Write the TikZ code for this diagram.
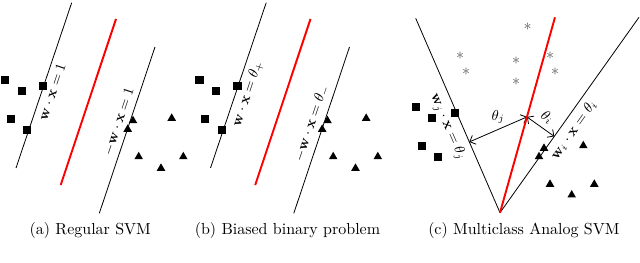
\documentclass[tikz,border=0pt]{standalone}
\usepackage{amsmath}
\usepackage{xcolor}
\usepackage{tikz}
\usetikzlibrary{arrows.meta, positioning, calc, shapes.geometric}
\definecolor{sepred}{HTML}{FF0000}
\definecolor{stargray}{HTML}{555555}
\tikzset{
	margin/.style={line width=0.5pt, black},
	separator/.style={line width=1.2pt, sepred},
	sq/.style={fill=black, minimum size=5.2pt, inner sep=0pt},
	tri/.style={regular polygon, regular polygon sides=3, fill=black,
		minimum size=6.2pt, inner sep=0pt},
	star/.style={text=stargray, inner sep=0pt},
	lbl/.style={font=\small, sloped, inner sep=3pt},
	dist/.style={{Straight Barb[length=3pt]}-{Straight Barb[length=3pt]}, line width=0.5pt},
	subcap/.style={anchor=base, inner sep=0pt},
}

\begin{document}
\begin{tikzpicture}[x=0.625pt, y=-0.625pt]
	\useasboundingbox (0,0) rectangle (640,263);

	% (a) regular SVM
	\coordinate (aLt) at (71.7,2.7);
	\coordinate (aLb) at (16,168);
	\coordinate (aMt) at (116,19);
	\coordinate (aMb) at (60.7,185);
	\coordinate (aRt) at (155,47);
	\coordinate (aRb) at (99.3,213.3);
	\draw[margin] (aLb) -- node[lbl, below, pos=0.48] {$\mathbf{w}\cdot\mathbf{x}=1$} (aLt);
	\draw[separator] (aMb) -- (aMt);
	\draw[margin] (aRb) -- node[lbl, above, pos=0.53] {$-\mathbf{w}\cdot\mathbf{x}=1$} (aRt);

	% (b) biased binary problem
	\begin{scope}[shift={(194.5,0)}]
		\coordinate (bLt) at (71.7,2.7);
		\coordinate (bLb) at (16,168);
		\coordinate (bMt) at (116,19);
		\coordinate (bMb) at (60.7,185);
		\coordinate (bRt) at (155,47);
		\coordinate (bRb) at (99.3,213.3);
		\draw[margin] (bLb) -- node[lbl, below, pos=0.47] {$\mathbf{w}\cdot\mathbf{x}=\theta_+$} (bLt);
		\draw[separator] (bMb) -- (bMt);
		\draw[margin] (bRb) -- node[lbl, above, pos=0.52] {$-\mathbf{w}\cdot\mathbf{x}=\theta_-$} (bRt);
	\end{scope}

	% data of (a) and (b)
	\foreach \s/\p in {0/a, 194.5/b} {
		\foreach \x/\y [count=\k] in {5/80, 21.7/90.7, 43/85.7, 10.7/118.7, 27.3/130}
			\node[sq] (sq\p\k) at (\x+\s,\y) {};
		\foreach \x/\y [count=\k] in {133/120.7, 127.7/129.3, 171.7/118.3, 138.7/156.7, 161/168.3, 183.3/156.7}
			\node[tri] (tr\p\k) at (\x+\s,\y) {};
	}

	% (c) multiclass analog SVM
	\coordinate (cV) at (500,212.7);
	\coordinate (cLt) at (415.7,18.3);
	\coordinate (cMt) at (555,17.3);
	\coordinate (cRt) at (639,17.3);
	\coordinate (cC) at ($(cV)!0.49!(cMt)$);
	\coordinate (cJ) at ($(cV)!(cC)!(cLt)$);
	\coordinate (cI) at ($(cV)!(cC)!(cRt)$);
	\draw[margin] (cLt) -- node[lbl, below, pos=0.53, inner sep=4pt] {$\mathbf{w}_j\cdot\mathbf{x}=\theta_j$} (cV);
	\draw[margin] (cV) -- node[lbl, below, pos=0.46, inner sep=3.5pt] {$\mathbf{w}_i\cdot\mathbf{x}=\theta_i$} (cRt);
	\draw[dist] (cJ) -- node[above, font=\small] {$\theta_j$} (cC);
	\draw[dist] (cC) -- node[above, sloped, font=\small] {$\theta_i$} (cI);
	\draw[separator] (cV) -- (cMt);

	\foreach \x/\y [count=\k] in {527.7/26.7, 460/55.7, 466/71.7, 516/60.7, 516/81.7, 550/55.7, 555/71.7}
		\node[star] (stc\k) at (\x,\y) {$\ast$};
	\foreach \x/\y [count=\k] in {415.7/107.3, 432.3/118.3, 455/112.7, 421.7/146, 438.3/157.3}
		\node[sq] (sqc\k) at (\x,\y) {};
	\foreach \x/\y [count=\k] in {544/148.3, 539/156.7, 583.3/145.7, 550/184.3, 571.7/195, 594.3/184.3}
		\node[tri] (trc\k) at (\x,\y) {};

	% captions
	\node[subcap] (capA) at (90.3,234.5) {(a) Regular SVM};
	\node[subcap] (capB) at (287.5,234.5) {(b) Biased binary problem};
	\node[subcap] (capC) at (523.9,234.5) {(c) Multiclass Analog SVM};
\end{tikzpicture}
\end{document}
